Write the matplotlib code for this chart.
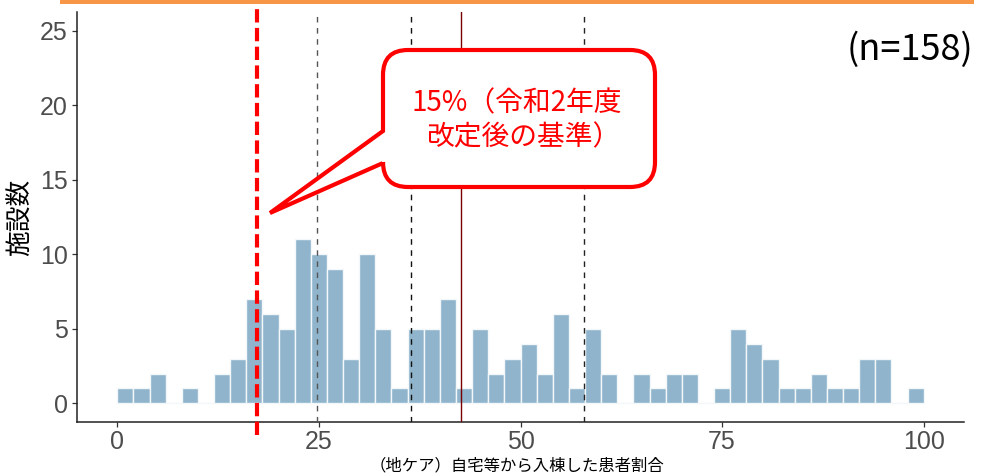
import numpy as np
import matplotlib
matplotlib.use("Agg")
import matplotlib.pyplot as plt
from matplotlib.path import Path
from matplotlib.patches import PathPatch, Rectangle
import matplotlib.transforms as mtransforms

# ---------------- data ----------------
bin_starts = [0, 2, 4, 6, 8, 10, 12, 14, 16, 18,
              20, 22, 24, 26, 28, 30, 32, 34, 36, 38,
              40, 42, 44, 46, 48, 50, 52, 54, 56, 58,
              60, 62, 64, 66, 68, 70, 72, 74, 76, 78,
              80, 82, 84, 86, 88, 90, 92, 94, 96, 98]
counts = [1, 1, 2, 0, 1, 0, 2, 3, 7, 6,
          5, 11, 10, 9, 3, 10, 5, 1, 5, 5,
          7, 1, 5, 2, 3, 4, 2, 6, 1, 5,
          2, 0, 2, 1, 2, 2, 0, 1, 5, 4,
          3, 1, 1, 2, 1, 1, 3, 3, 0, 1]
bin_width = 2
quartile_lines = [24.8, 36.4, 57.9]
quartile_colors = ["#555555", "#111111", "#222222"]
mean_line = 42.6
threshold_line = 17.3
x_ticks = [0, 25, 50, 75, 100]
y_ticks = [0, 5, 10, 15, 20, 25]
x_label = "（地ケア）自宅等から入棟した患者割合"
y_label = "施設数"
n_label = "(n=158)"
callout_lines = ["15%（令和2年度", "改定後の基準）"]

CJK = ["Noto Sans CJK JP", "DejaVu Sans"]
W, H = 981, 476

fig = plt.figure(figsize=(W / 100, H / 100), dpi=100)
ax = fig.add_axes([77 / W, 1 - 422 / H, (964 - 77) / W, (422 - 12) / H])

# pixel transform (y downward), for decorations
px = mtransforms.Affine2D().scale(1 / W, -1 / H).translate(0, 1) + fig.transFigure

ax.bar(bin_starts, counts, width=bin_width, align="edge",
       color="#8FB4CB", edgecolor="#F4F7F9", linewidth=1.0, zorder=2)

for q, c in zip(quartile_lines, quartile_colors):
    ax.axvline(q, color=c, linestyle=(0, (4, 4)), linewidth=1.0, zorder=3)
ax.axvline(mean_line, color="#7A0000", linewidth=1.0, zorder=3)
ax.axvline(threshold_line, ymin=-0.032, ymax=1.03, color="#FF0000",
           linestyle=(0, (3.2, 1.3)), linewidth=3.0, clip_on=False, zorder=6)

ax.set_xlim(-5, 105)
ax.set_ylim(-1.25, 26.25)
ax.set_xticks(x_ticks)
ax.set_yticks(y_ticks)
for s in ["top", "right"]:
    ax.spines[s].set_visible(False)
for s in ["left", "bottom"]:
    ax.spines[s].set_color("#222222")
    ax.spines[s].set_linewidth(1.1)
ax.tick_params(axis="both", length=3.5, width=0.9, color="#333333",
               labelcolor="#4D4D4D", labelsize=18)
ax.tick_params(axis="x", pad=2)
ax.tick_params(axis="y", pad=3)
for lab in ax.get_xticklabels() + ax.get_yticklabels():
    lab.set_fontfamily("Liberation Sans")

# axis labels
fig.text(21 / W, 1 - 217 / H, y_label, rotation=90, ha="center", va="center",
         fontsize=18.5, family=CJK, color="black")
fig.text(517 / W, 1 - 466 / H, x_label, ha="center", va="center",
         fontsize=11.8, family=CJK, color="black")

# n label
fig.text(910 / W, 1 - 50 / H, n_label, ha="center", va="center",
         fontsize=26, family=CJK, color="black")

# orange bar at top
fig.patches.append(Rectangle((60, 0), 914, 3.5, transform=px,
                             facecolor="#F79646", edgecolor="none", zorder=1))

# callout box
L, R, T, B, r = 383, 655, 50, 187, 25
verts = [(L + r, T), (R - r, T), (R, T), (R, T + r), (R, B - r), (R, B), (R - r, B),
         (L + r, B), (L, B), (L, B - r), (L, 163), (270, 213), (L, 131),
         (L, T + r), (L, T), (L + r, T), (L + r, T)]
codes = [Path.MOVETO, Path.LINETO, Path.CURVE3, Path.CURVE3, Path.LINETO,
         Path.CURVE3, Path.CURVE3, Path.LINETO, Path.CURVE3, Path.CURVE3,
         Path.LINETO, Path.LINETO, Path.LINETO, Path.LINETO,
         Path.CURVE3, Path.CURVE3, Path.CLOSEPOLY]
callout = PathPatch(Path(verts, codes), transform=px, facecolor="white",
                    edgecolor="#FF0000", linewidth=3.0, joinstyle="miter", zorder=8)
fig.patches.append(callout)
fig.text(517 / W, 1 - 103 / H, callout_lines[0], ha="center", va="center",
         fontsize=20, family=CJK, color="#FF0000", zorder=9)
fig.text(523 / W, 1 - 137 / H, callout_lines[1], ha="center", va="center",
         fontsize=20, family=CJK, color="#FF0000", zorder=9)

fig.savefig("out.png", dpi=100)
